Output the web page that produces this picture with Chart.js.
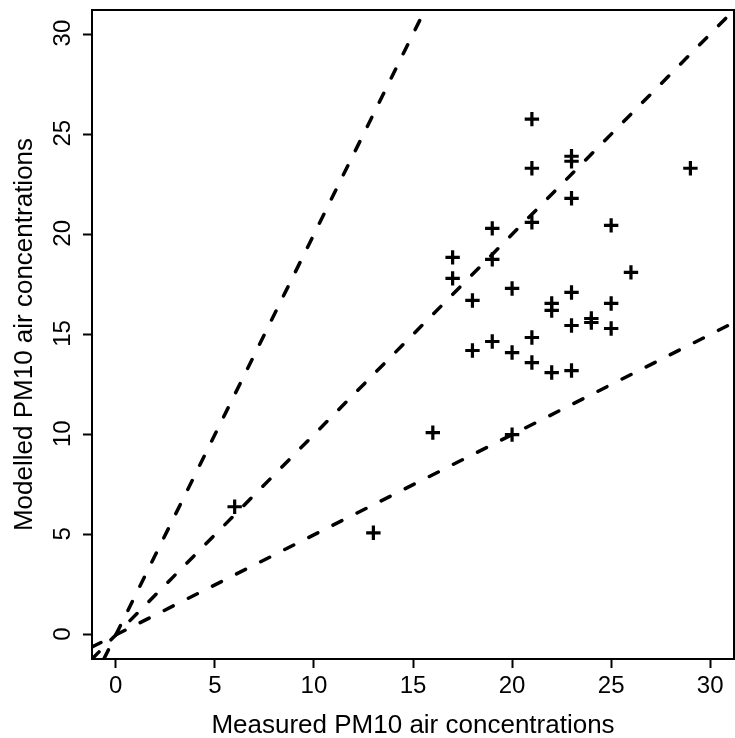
<!DOCTYPE html>
<html>
<head>
<meta charset="utf-8">
<script src="https://cdn.jsdelivr.net/npm/chart.js@4"></script>
<style>
  html, body { margin: 0; padding: 0; background: #fff; }
  #wrap { width: 735px; height: 738px; }
</style>
</head>
<body>
<div id="wrap"><canvas id="pmChart" width="735" height="738"></canvas></div>
<script>
// ===== 資料 =====
const measured = [6, 13, 16, 20, 17, 17, 18, 18, 19, 19, 19, 20, 20, 21, 21, 21, 21, 21,
  22, 22, 22, 23, 23, 23, 23, 23, 23, 24, 24, 25, 25, 25, 26, 29];
const modelled = [6.4, 5.1, 10.1, 10.0, 18.85, 17.8, 16.7, 14.2, 20.3, 18.75, 14.65, 17.3, 14.1,
  25.75, 23.3, 20.6, 14.85, 13.6, 16.55, 16.2, 13.1, 23.9, 23.65, 21.8, 17.1, 15.45, 13.2,
  15.8, 15.6, 20.45, 16.55, 15.3, 18.1, 23.3];
const refSlopes = [2, 1, 0.5]; // y = 2x, y = x, y = x/2
const axisRange = [-1.2, 31.2];
const xTicks = [0, 5, 10, 15, 20, 25, 30];
const yTicks = [0, 5, 10, 15, 20, 25, 30];
const xTitle = "Measured PM10 air concentrations";
const yTitle = "Modelled PM10 air concentrations";

const FONT = "'Liberation Sans', Arial, sans-serif";

const points = measured.map((x, i) => ({ x, y: modelled[i] }));

const lineSets = refSlopes.map((s) => ({
  type: "line",
  data: axisRange.map((x) => ({ x, y: x * s })),
  borderColor: "#000",
  borderWidth: 3.5,
  borderDash: [10, 17],
  borderCapStyle: "round",
  pointRadius: 0,
  fill: false,
  tension: 0,
}));

// 外框 + 旋轉的 y 軸刻度文字
const framePlugin = {
  id: "frame",
  afterDraw(chart) {
    const { ctx, chartArea: a, scales } = chart;
    ctx.save();
    ctx.strokeStyle = "#000";
    ctx.lineWidth = 2;
    ctx.strokeRect(a.left, a.top, a.right - a.left, a.bottom - a.top);
    ctx.fillStyle = "#000";
    ctx.font = `24px ${FONT}`;
    ctx.textAlign = "center";
    ctx.textBaseline = "middle";
    yTicks.forEach((v) => {
      const py = scales.y.getPixelForValue(v);
      ctx.save();
      ctx.translate(63, py - 1);
      ctx.rotate(-Math.PI / 2);
      ctx.fillText(String(v), 0, 0);
      ctx.restore();
    });
    ctx.restore();
  },
};

new Chart(document.getElementById("pmChart"), {
  type: "scatter",
  data: {
    datasets: [
      {
        data: points,
        pointStyle: "cross",
        pointRadius: 7.2,
        pointBorderWidth: 3.2,
        borderColor: "#000",
        backgroundColor: "#000",
      },
      ...lineSets,
    ],
  },
  options: {
    responsive: false,
    animation: false,
    layout: { autoPadding: false, padding: { top: 10, right: 1, left: 0, bottom: 0 } },
    plugins: { legend: { display: false }, tooltip: { enabled: false } },
    scales: {
      x: {
        type: "linear",
        min: axisRange[0],
        max: axisRange[1],
        afterBuildTicks: (s) => { s.ticks = xTicks.map((value) => ({ value })); },
        afterFit: (s) => { s.height = 79; s.paddingLeft = 0; s.paddingRight = 0; },
        grid: { drawOnChartArea: false, drawTicks: true, tickLength: 9, tickColor: "#000", tickWidth: 2 },
        border: { display: true, color: "#000", width: 2 },
        ticks: { color: "#000", font: { family: FONT, size: 24 }, padding: 4, maxRotation: 0 },
        title: { display: true, text: xTitle, color: "#000", font: { family: FONT, size: 26 }, padding: { top: 0, bottom: -3 } },
      },
      y: {
        type: "linear",
        min: axisRange[0],
        max: axisRange[1],
        afterBuildTicks: (s) => { s.ticks = yTicks.map((value) => ({ value })); },
        afterFit: (s) => { s.width = 92; s.paddingTop = 0; s.paddingBottom = 0; },
        grid: { drawOnChartArea: false, drawTicks: true, tickLength: 9, tickColor: "#000", tickWidth: 2 },
        border: { display: true, color: "#000", width: 2 },
        ticks: { display: false },
        title: { display: true, text: yTitle, color: "#000", font: { family: FONT, size: 26 }, padding: { top: 9, bottom: 0 } },
      },
    },
  },
  plugins: [framePlugin],
});
</script>
</body>
</html>
